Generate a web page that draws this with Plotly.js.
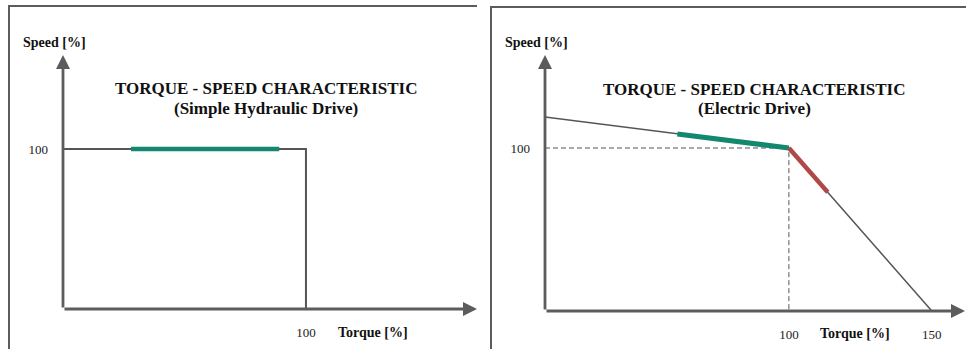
<!DOCTYPE html>
<html>
<head>
<meta charset="utf-8">
<script src="https://cdn.plot.ly/plotly-3.0.1.min.js"></script>
<style>
html,body{margin:0;padding:0;background:#fff;}
#chart{width:966px;height:349px;}
</style>
</head>
<body>
<div id="chart"></div>
<script>
// ---- Data ----
// Left: simple hydraulic drive
const hydStepTorque = [0, 100, 100];
const hydStepSpeed  = [100, 100, 0];
const hydBandTorque = [28, 89];
const hydBandSpeed  = [100, 100];
// Right: electric drive
const elecTorque      = [14.7, 100, 150];
const elecSpeed       = [119, 100, 0];
const elecGreenTorque = [61, 100];
const elecGreenSpeed  = [108.6, 100];
const elecRedTorque   = [100, 113.6];
const elecRedSpeed    = [100, 72.8];
const elecRefTorque   = [14.7, 100, 100];
const elecRefSpeed    = [100, 100, 0];
// Tick labels
const leftXTicks  = [100];
const leftYTicks  = [100];
const rightXTicks = [100, 150];
const rightYTicks = [100];
const titleLine1 = 'TORQUE - SPEED CHARACTERISTIC';
const leftSubtitle = '(Simple Hydraulic Drive)';
const rightSubtitle = '(Electric Drive)';
const xLabel = 'Torque [%]';
const yLabel = 'Speed [%]';

// ---- Layout helpers ----
const W = 966, H = 349;
const px = v => v / W;
const py = v => 1 - v / H;

const GRAY = '#5c5c5c';
const LINE = '#555555';
const TEAL = '#14876f';
const RED  = '#b04848';
const SERIF = '"Liberation Serif", "Times New Roman", Times, serif';

const leftXRange = [0, 170.4];
const leftYRange = [0, 158.75];
const rightXRange = [14.7, 161.6];
const rightYRange = [0, 157.05];

const traces = [
  {x: hydStepTorque, y: hydStepSpeed, xaxis: 'x', yaxis: 'y', mode: 'lines',
   line: {color: LINE, width: 2}, hoverinfo: 'skip'},
  {x: hydBandTorque, y: hydBandSpeed, xaxis: 'x', yaxis: 'y', mode: 'lines',
   line: {color: TEAL, width: 4.5}, hoverinfo: 'skip'},
  {x: elecRefTorque, y: elecRefSpeed, xaxis: 'x2', yaxis: 'y2', mode: 'lines',
   line: {color: LINE, width: 1, dash: '5px,3px'}, hoverinfo: 'skip'},
  {x: elecTorque, y: elecSpeed, xaxis: 'x2', yaxis: 'y2', mode: 'lines',
   line: {color: LINE, width: 1.5}, hoverinfo: 'skip'},
  {x: elecGreenTorque, y: elecGreenSpeed, xaxis: 'x2', yaxis: 'y2', mode: 'lines',
   line: {color: TEAL, width: 5}, hoverinfo: 'skip'},
  {x: elecRedTorque, y: elecRedSpeed, xaxis: 'x2', yaxis: 'y2', mode: 'lines',
   line: {color: RED, width: 4.5}, hoverinfo: 'skip'}
];

const axBase = {showgrid: false, zeroline: false, showline: false, ticks: '',
  fixedrange: true, tickmode: 'array',
  tickfont: {family: SERIF, size: 13, color: '#222'}};

function arrow(xref, yref, x, y, ax, ay) {
  return {xref: xref, yref: yref, axref: xref, ayref: yref, x: x, y: y, ax: ax, ay: ay,
    text: '', showarrow: true, arrowhead: 2, arrowsize: 1.0, arrowwidth: 2.8,
    arrowcolor: GRAY, standoff: 0, startstandoff: 0};
}
function label(text, x, y, size, bold, xanchor) {
  return {xref: 'paper', yref: 'paper', x: px(x), y: py(y), text: bold ? '<b>' + text + '</b>' : text,
    showarrow: false, xanchor: xanchor || 'center', yanchor: 'middle',
    font: {family: SERIF, size: size, color: '#111'}};
}

const layout = {
  width: W, height: H,
  margin: {l: 0, r: 0, t: 0, b: 0},
  paper_bgcolor: '#fff', plot_bgcolor: 'rgba(0,0,0,0)',
  font: {family: SERIF},
  showlegend: false,
  xaxis: Object.assign({}, axBase, {domain: [px(63), px(477)], range: leftXRange,
    tickvals: leftXTicks, ticktext: leftXTicks.map(String), ticklabelstandoff: 14, anchor: 'y'}),
  yaxis: Object.assign({}, axBase, {domain: [py(309), py(55)], range: leftYRange,
    tickvals: leftYTicks, ticktext: leftYTicks.map(String), ticklabelstandoff: 14, anchor: 'x'}),
  xaxis2: Object.assign({}, axBase, {domain: [px(545), px(965)], range: rightXRange,
    tickvals: rightXTicks, ticktext: rightXTicks.map(String), ticklabelstandoff: 14, anchor: 'y2'}),
  yaxis2: Object.assign({}, axBase, {domain: [py(311), py(55)], range: rightYRange,
    tickvals: rightYTicks, ticktext: rightYTicks.map(String), ticklabelstandoff: 14, anchor: 'x2'}),
  shapes: [
    {type: 'line', xref: 'paper', yref: 'paper', x0: px(9), x1: px(9), y0: py(5), y1: py(349), line: {color: GRAY, width: 2}},
    {type: 'line', xref: 'paper', yref: 'paper', x0: px(8), x1: px(477), y0: py(6), y1: py(6), line: {color: GRAY, width: 2}},
    {type: 'line', xref: 'paper', yref: 'paper', x0: px(491), x1: px(491), y0: py(6), y1: py(349), line: {color: GRAY, width: 2}},
    {type: 'line', xref: 'paper', yref: 'paper', x0: px(490), x1: px(966), y0: py(7), y1: py(7), line: {color: GRAY, width: 2}}
  ],
  annotations: [
    arrow('x', 'y', leftXRange[1], 0, leftXRange[0], 0),
    arrow('x', 'y', leftXRange[0], leftYRange[1], leftXRange[0], 0),
    arrow('x2', 'y2', rightXRange[1], 0, rightXRange[0], 0),
    arrow('x2', 'y2', rightXRange[0], rightYRange[1], rightXRange[0], 0),
    label(titleLine1, 266, 89, 17, true),
    label(leftSubtitle, 266, 108, 17, true),
    label(titleLine1, 754, 90, 17, true),
    label(rightSubtitle, 754, 108, 17, true),
    label(yLabel, 21, 43, 14, true, 'left'),
    label(yLabel, 503, 43, 14, true, 'left'),
    label(xLabel, 336, 332, 14, true, 'left'),
    label(xLabel, 818, 333, 14, true, 'left')
  ]
};

Plotly.newPlot('chart', traces, layout, {staticPlot: true, displayModeBar: false});
</script>
</body>
</html>
